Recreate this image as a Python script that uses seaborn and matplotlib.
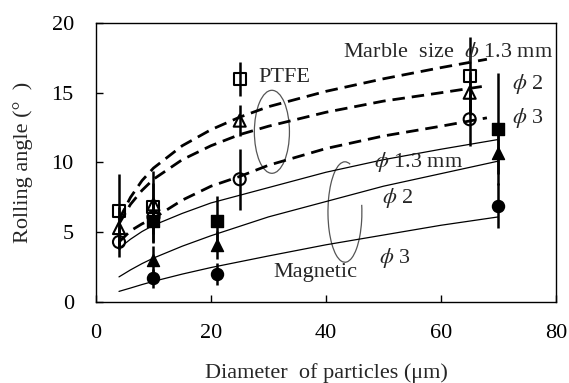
import numpy as np
import pandas as pd
import seaborn as sns
import matplotlib
matplotlib.use("Agg")
import matplotlib.pyplot as plt
from matplotlib.patches import Ellipse, Arc

# Measured points (PTFE = open markers, Magnetic = filled markers)
ptfe_x = [4, 10, 25, 65]
ptfe_13 = [6.5, 6.8, 16.0, 16.2]
ptfe_13_err = [2.7, 2.6, 1.2, 2.8]
ptfe_2 = [5.3, 7.0, 13.0, 15.0]
ptfe_2_err = [1.5, 1.5, 1.1, 1.5]
ptfe_3 = [4.3, 6.1, 8.8, 13.1]
ptfe_3_err = [1.1, 1.2, 2.2, 1.9]

mag_x = [10, 21, 70]
mag_13 = [5.8, 5.8, 12.4]
mag_13_err = [1.5, 1.8, 4.0]
mag_2 = [3.0, 4.1, 10.7]
mag_2_err = [1.0, 1.0, 1.5]
mag_3 = [1.7, 2.0, 6.9]
mag_3_err = [0.7, 0.8, 1.6]

# Fitted curves
ptfe_cx = [4, 6, 8, 10, 15, 20, 25, 30, 40, 50, 60, 68]
ptfe_13_fit = [5.9, 7.5, 8.7, 9.6, 11.2, 12.35, 13.25, 14.0, 15.1, 16.0, 16.8, 17.4]
ptfe_2_fit = [5.6, 7.0, 8.0, 8.8, 10.2, 11.2, 12.0, 12.6, 13.6, 14.4, 15.0, 15.5]
ptfe_3_fit = [4.3, 5.1, 5.6, 6.0, 7.3, 8.3, 9.0, 9.8, 11.0, 11.9, 12.6, 13.2]

mag_cx = [4, 6, 8, 10, 15, 20, 30, 40, 50, 60, 70]
mag_13_fit = [3.85, 4.5, 5.05, 5.5, 6.35, 7.1, 8.2, 9.3, 10.2, 10.95, 11.65]
mag_2_fit = [1.8, 2.3, 2.75, 3.15, 4.0, 4.75, 6.1, 7.2, 8.3, 9.2, 10.1]
mag_3_fit = [0.76, 1.0, 1.25, 1.48, 2.0, 2.47, 3.3, 4.1, 4.8, 5.5, 6.1]

sns.set_theme(style="white")
plt.rcParams['font.family'] = ['Liberation Serif', 'DejaVu Serif']
plt.rcParams['mathtext.fontset'] = 'stix'

fig = plt.figure(figsize=(5.69, 3.83), dpi=100)
ax = fig.add_axes([0.1687, 0.2115, 0.8083, 0.7285])

# fitted curves
for fit in [ptfe_13_fit, ptfe_2_fit, ptfe_3_fit]:
    sns.lineplot(x=ptfe_cx, y=fit, ax=ax, color="black", lw=2.0,
                 zorder=2).lines[-1].set_dashes((4.5, 2.5))
for fit in [mag_13_fit, mag_2_fit, mag_3_fit]:
    sns.lineplot(x=mag_cx, y=fit, ax=ax, color="black", lw=0.9, zorder=2)

# error bars
for xs, ys, es in [(ptfe_x, ptfe_13, ptfe_13_err), (ptfe_x, ptfe_2, ptfe_2_err),
                   (ptfe_x, ptfe_3, ptfe_3_err), (mag_x, mag_13, mag_13_err),
                   (mag_x, mag_2, mag_2_err), (mag_x, mag_3, mag_3_err)]:
    ax.errorbar(xs, ys, yerr=es, fmt="none", ecolor="black", elinewidth=1.8,
                capsize=0, zorder=3)

# markers
for ys, m in [(ptfe_13, "s"), (ptfe_2, "^"), (ptfe_3, "o")]:
    sns.scatterplot(x=ptfe_x, y=ys, ax=ax, marker=m, s=75, facecolors="none",
                    edgecolor="black", linewidth=1.5, zorder=4)
for ys, m in [(mag_13, "s"), (mag_2, "^"), (mag_3, "o")]:
    sns.scatterplot(x=mag_x, y=ys, ax=ax, marker=m, s=75, color="black",
                    edgecolor="black", linewidth=1, zorder=4)

# grouping ellipses
ax.add_patch(Ellipse((30.6, 12.2), 6.1, 5.95, fill=False, edgecolor="#555555", lw=0.9, zorder=1))
ax.add_patch(Arc((43.3, 6.45), 5.9, 7.2, theta1=75, theta2=370, edgecolor="#555555", lw=0.9, zorder=1))

fs = 16
ax.text(28.2, 16.1, "PTFE", fontsize=fs, va="center", ha="left")
ax.text(43, 17.9, "Marble  size  $\\phi$ 1.3 mm", fontsize=fs, va="center", ha="left")
ax.text(72.3, 15.6, "$\\phi$ 2", fontsize=fs, va="center", ha="left")
ax.text(72.3, 13.2, "$\\phi$ 3", fontsize=fs, va="center", ha="left")
ax.text(48.3, 10.0, "$\\phi$ 1.3 mm", fontsize=fs, va="center", ha="left")
ax.text(49.7, 7.45, "$\\phi$ 2", fontsize=fs, va="center", ha="left")
ax.text(49.3, 3.15, "$\\phi$ 3", fontsize=fs, va="center", ha="left")
ax.text(38.1, 2.1, "Magnetic", fontsize=fs, va="center", ha="center")

ax.set_xlim(0, 80)
ax.set_ylim(0, 20)
ax.set_xticks([0, 20, 40, 60, 80])
ax.set_yticks([0, 5, 10, 15, 20])
ax.tick_params(direction="in", length=5, width=1, pad=16, labelsize=fs,
               bottom=True, left=True, colors="black")
for sp in ax.spines.values():
    sp.set_color("black")
    sp.set_linewidth(1.0)

ax.set_xlabel("Diameter  of particles (\u03bcm)", fontsize=fs, labelpad=14)
ax.set_ylabel("Rolling angle (\u00b0  )", fontsize=fs, labelpad=13)

fig.savefig("out.png", dpi=100)
